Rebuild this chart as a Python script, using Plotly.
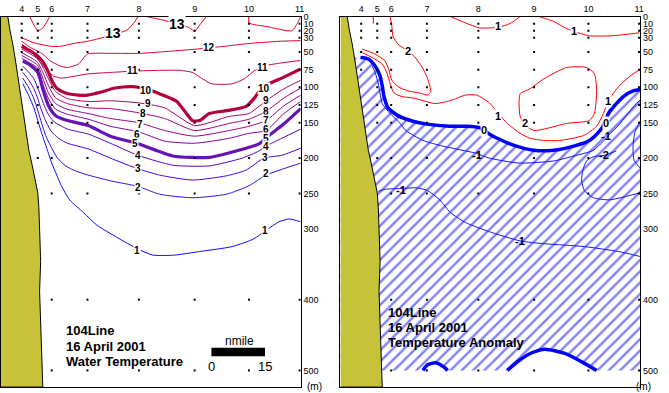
import plotly.graph_objects as go

W, H = 669, 393

# ---------------- axes / stations ----------------
station_names = ["4", "5", "6", "7", "8", "9", "10", "11"]
station_nmi = [5.8, 10.3, 14.2, 24.2, 38.6, 54.2, 69.4, 83.6]
station_bottom = [75, 200, 500, 500, 500, 500, 500, 500]
sample_depths = [10, 20, 30, 50, 75, 100, 125, 150, 200, 250, 400, 500]
depth_ticks = [0, 10, 20, 30, 50, 75, 100, 125, 150, 200, 250, 300, 400, 500]
X_MAX = 83.9
D_MAX = 523.5

# ---------------- coast (bottom topography) ----------------
coast_x = [1.9, 2.5, 3.3, 4.2, 5.0, 5.8, 6.4, 7.2, 7.8, 8.6, 9.4, 10.3, 10.6, 10.8, 11.1, 10.8, 11.1, 11.4, 11.7]
coast_d = [0, 19, 39, 67, 95, 119, 141, 165, 189, 207, 228, 249, 270, 304, 346, 388, 430, 472, 523.5]

# ---------------- water temperature contours (x: nmi, d: m) ----------------
t13a_x = [8.1, 9.2, 10.3, 11.7, 13.1, 13.6]
t13a_d = [0, 12, 20, 16, 5, 0]
t13b_x = [5.8, 9.2, 13.9, 16.7, 20.3, 24.2, 29.7, 35.3, 37.5, 38.3]
t13b_d = [30, 37, 42, 42, 38, 35, 28, 19, 7, 0]
t13c_x = [40.8, 45.3, 49.2, 52.8, 54.2, 55.6, 57.5]
t13c_d = [0, 5, 10, 16, 21, 12, 0]
t13d_x = [69.4, 69.4, 74.2, 81.4, 82.8, 83.9]
t13d_d = [0, 9, 14, 20, 11, 0]
t12_x = [5.8, 8.3, 11.1, 13.9, 16.7, 18.6, 21.7, 24.2, 30.6, 38.9, 47.2, 54.7, 62.5, 69.4, 77.8, 83.9]
t12_d = [35, 44, 51, 63, 70, 72, 67, 53, 52, 52, 49, 46, 42, 38, 35, 34]
t11_x = [5.8, 8.3, 10.3, 11.9, 13.1, 14.7, 16.7, 18.6, 24.4, 30.6, 37.5, 44.4, 50.0, 53.6, 56.4, 58.9, 64.7, 68.1, 70.8, 73.6, 77.8, 83.9]
t11_d = [39, 49, 60, 70, 77, 84, 87, 86, 81, 79, 77, 76, 76, 79, 88, 95, 95, 88, 77, 70, 66, 62]
t10_x = [5.8, 8.3, 10.3, 11.9, 13.3, 14.4, 15.8, 18.1, 21.7, 24.2, 27.8, 31.9, 36.9, 41.7, 45.8, 49.2, 51.9, 53.6, 55.6, 58.3, 63.3, 68.6, 70.8, 72.8, 75.0, 78.6, 83.9]
t10_d = [42, 49, 56, 65, 79, 92, 102, 108, 111, 111, 107, 101, 99, 104, 112, 120, 137, 147, 147, 137, 133, 127, 116, 102, 95, 87, 74]
tmid_x = [5.8, 8.3, 10.3, 11.9, 13.3, 15.3, 18.6, 24.4, 30.6, 38.6, 45.8, 54.2, 63.9, 69.4, 74.2, 79.2, 83.9]
t9_d = [46, 53, 60, 73, 88, 106, 116, 120, 119, 122, 129, 154, 141, 137, 119, 102, 90]
t8_d = [51, 58, 65, 81, 98, 115, 123, 129, 130, 136, 144, 161, 151, 145, 134, 115, 101]
t7_d = [55, 62, 69, 90, 108, 123, 131, 137, 144, 150, 161, 169, 161, 155, 147, 126, 111]
t6_d = [59, 66, 73, 98, 116, 131, 138, 145, 155, 163, 176, 179, 172, 165, 161, 137, 120]
t5_x = [6.1, 8.3, 10.3, 11.9, 13.3, 15.3, 18.6, 24.4, 30.6, 38.6, 48.1, 58.3, 65.8, 72.2, 75.0, 78.6, 83.9]
t5_d = [63, 69, 79, 106, 126, 140, 147, 154, 169, 180, 197, 199, 190, 180, 168, 154, 130]
t4_x = [6.1, 7.8, 9.2, 10.3, 11.1, 11.9, 13.1, 14.7, 18.6, 24.4, 30.6, 38.3, 48.1, 58.3, 67.5, 72.2, 74.2, 78.6, 83.9]
t4_d = [70, 79, 88, 101, 112, 123, 137, 148, 159, 166, 179, 196, 210, 211, 200, 190, 183, 172, 159]
t3_x = [6.1, 7.8, 9.2, 10.3, 11.1, 12.2, 13.9, 16.1, 18.6, 24.4, 30.6, 38.3, 44.4, 53.6, 63.1, 68.6, 73.6, 78.6, 83.9]
t3_d = [79, 90, 102, 116, 129, 144, 161, 172, 179, 187, 200, 215, 224, 231, 225, 217, 200, 196, 186]
t2_x = [6.1, 7.8, 9.2, 10.3, 11.4, 12.5, 13.9, 15.8, 18.1, 20.8, 24.4, 30.6, 38.3, 44.4, 53.6, 63.1, 69.4, 74.2, 79.7, 83.9]
t2_d = [87, 101, 116, 133, 151, 168, 183, 200, 211, 218, 224, 232, 240, 251, 256, 251, 239, 224, 214, 207]
t1_x = [6.1, 7.8, 9.2, 10.3, 11.4, 12.8, 14.2, 15.6, 16.9, 19.2, 23.1, 26.9, 32.5, 38.1, 42.5, 48.6, 55.6, 64.7, 70.8, 74.2, 77.8, 80.6, 83.9]
t1_d = [95, 112, 129, 147, 165, 186, 207, 224, 239, 259, 277, 295, 312, 328, 337, 337, 332, 325, 314, 302, 290, 286, 290]

t_label_text = ["13", "13", "12", "11", "11", "10", "10", "9", "9", "8", "8", "7", "7", "6", "6",
                "5", "5", "4", "4", "3", "3", "2", "2", "1", "1"]
t_label_x = [31.4, 49.2, 58.3, 36.9, 73.1, 40.6, 73.6, 41.1, 74.2, 39.7, 74.2, 38.9, 74.2, 38.1, 74.2,
             37.5, 74.2, 38.3, 74.2, 38.3, 73.9, 38.3, 74.2, 38.1, 73.9]
t_label_d = [23, 10, 44, 76, 72, 105, 101, 123, 119, 137, 134, 153, 147, 167, 159,
             180, 172, 196, 183, 215, 199, 242, 222, 330, 302]

# ---------------- temperature anomaly contours ----------------
a1_top_x = [30.8, 35.0, 38.9, 42.2, 45.8, 47.8, 50.3]
a1_top_d = [0, 9, 16, 16, 13, 9, 0]
a1_topr_x = [55.6, 59.7, 63.3, 69.4, 76.4, 83.6]
a1_topr_d = [0, 7, 17, 27, 27, 23]
a1_short_x = [9.2, 9.2]
a1_short_d = [0, 10]
a1_x = [6.1, 8.9, 11.7, 13.1, 13.9, 15.0, 17.2, 20.3, 23.9, 26.4, 30.6, 35.0, 38.1, 41.7, 44.4, 46.7, 50.3, 53.1, 56.9, 61.4, 68.1, 71.7, 73.6, 75.0, 76.9, 79.2, 81.9, 83.6]
a1_d = [51, 58, 67, 81, 95, 108, 113, 115, 120, 123, 119, 111, 111, 122, 138, 151, 165, 172, 175, 175, 168, 155, 137, 119, 105, 92, 81, 76]
a2_tongue_x = [13.9, 14.4, 14.7, 16.1, 18.9, 20.8, 22.8, 24.2, 25.0, 25.3, 24.4, 22.2, 18.9, 16.1, 14.4, 13.6, 12.5, 9.7, 6.1]
a2_tongue_d = [0, 14, 28, 39, 49, 57, 71, 85, 98, 106, 111, 108, 105, 99, 90, 76, 63, 53, 46]
a2_loop_x = [50.3, 53.1, 56.9, 63.3, 68.9, 71.1, 71.7, 71.1, 69.7, 63.3, 57.8, 54.2, 51.7, 50.3, 50.0, 50.3]
a2_loop_d = [109, 102, 88, 72, 72, 81, 105, 137, 147, 151, 158, 161, 154, 141, 123, 109]
a0_x = [5.6, 7.8, 9.7, 11.1, 11.7, 12.2, 13.3, 16.1, 20.3, 24.2, 30.6, 35.3, 38.9, 41.1, 43.9, 48.6, 54.2, 59.7, 65.3, 69.7, 72.5, 73.9, 75.0, 76.7, 79.2, 81.9, 83.9]
a0_d = [58, 60, 70, 84, 98, 113, 129, 140, 148, 152, 155, 155, 157, 164, 172, 182, 189, 189, 183, 175, 162, 151, 137, 126, 113, 105, 103]
am1_x = [8.9, 9.7, 10.6, 11.1, 11.7, 13.9, 16.7, 18.3, 23.1, 28.6, 37.8, 41.7, 50.0, 59.7, 65.3, 70.8, 73.6, 75.6, 77.8, 80.0, 82.2, 83.9]
am1_d = [70, 79, 95, 109, 123, 137, 151, 161, 175, 183, 193, 200, 207, 204, 197, 189, 176, 165, 154, 140, 126, 118]
am1_low_x = [10.6, 12.5, 16.9, 21.4, 24.4, 27.8, 30.8, 35.0, 41.7, 50.3, 57.2, 68.3, 77.8, 83.9]
am1_low_d = [247, 244, 243, 242, 246, 259, 277, 291, 304, 317, 321, 325, 332, 339]
am2_x = [77.2, 73.9, 70.8, 68.9, 67.8, 67.5, 68.3, 70.8, 75.3, 80.0, 83.9]
am2_d = [190, 196, 198, 204, 218, 232, 246, 256, 259, 254, 249]
am_edge_x = [83.9, 82.5, 81.9, 82.2, 83.9]
am_edge_d = [148, 162, 183, 203, 214]
bump1_x = [23.1, 24.4, 26.7, 29.2, 30.0]
bump1_d = [500, 492, 489, 496, 500]
bump2_x = [46.7, 50.0, 53.6, 57.2, 62.8, 68.3, 71.7]
bump2_d = [500, 486, 475, 470, 476, 490, 500]

a_label_text = ["1", "1", "1", "1", "2", "2", "0", "0", "-1", "-1", "-1", "-1", "-2"]
a_label_x = [44.2, 65.3, 44.2, 75.0, 18.9, 51.7, 40.3, 74.4, 38.3, 74.4, 16.9, 50.3, 73.9]
a_label_d = [13, 21, 140, 119, 49, 151, 160, 151, 196, 169, 245, 317, 196]
a_label_bg = [True, True, True, True, True, True, True, True, False, False, False, False, False]

scale_start = 58.9
scale_len = 15

# ---------------- figure ----------------
fig = go.Figure()

x_dom_l = [0 / W, 302 / W]
x_dom_r = [342 / W, 644 / W]
y_dom = [1 - 387 / H, 1 - 11.7 / H]


def line(x, d, color, width, xa, ya):
    fig.add_trace(go.Scatter(x=x, y=d, mode="lines", xaxis=xa, yaxis=ya,
                             line=dict(color=color, width=width, shape="spline", smoothing=0.6),
                             hoverinfo="skip", showlegend=False))


# ---- left panel: temperature ----
temp_lines = [
    (t13a_x, t13a_d, "#e8001e", 1), (t13b_x, t13b_d, "#e8001e", 1),
    (t13c_x, t13c_d, "#e8001e", 1), (t13d_x, t13d_d, "#e8001e", 1),
    (t12_x, t12_d, "#dc0030", 1), (t11_x, t11_d, "#c8003c", 1),
    (t10_x, t10_d, "#b4003c", 3.2),
    (tmid_x, t9_d, "#aa0064", 1), (tmid_x, t8_d, "#a00078", 1),
    (tmid_x, t7_d, "#96008c", 1), (tmid_x, t6_d, "#8200a0", 1),
    (t5_x, t5_d, "#6414b4", 3.2),
    (t4_x, t4_d, "#5a00c8", 1), (t3_x, t3_d, "#4600dc", 1),
    (t2_x, t2_d, "#2814ee", 1), (t1_x, t1_d, "#0a0aff", 1),
]
for x, d, c, w in temp_lines:
    line(x, d, c, w, "x", "y")

coast_poly_x = [0] + coast_x + [0]
coast_poly_d = [0] + coast_d + [D_MAX]

dots_x, dots_d = [], []
for sx, sb in zip(station_nmi, station_bottom):
    for dep in sample_depths:
        if dep <= sb:
            dots_x.append(sx)
            dots_d.append(dep)

fig.add_trace(go.Scatter(x=coast_poly_x, y=coast_poly_d, mode="lines", fill="toself",
                         fillcolor="#c6c33a", line=dict(color="black", width=1),
                         xaxis="x", yaxis="y", hoverinfo="skip", showlegend=False))

# ---- right panel: anomaly ----
hatch_x = [0] + a0_x + [X_MAX, X_MAX] + bump2_x[::-1] + bump1_x[::-1] + [0]
hatch_d = [60] + a0_d + [a0_d[-1], 500] + bump2_d[::-1] + bump1_d[::-1] + [500]
fig.add_trace(go.Scatter(x=hatch_x, y=hatch_d, mode="lines", fill="toself",
                         fillcolor="rgba(0,0,0,0)",
                         fillpattern=dict(shape="/", fgcolor="#0000ff", bgcolor="white",
                                          size=8, solidity=0.3),
                         line=dict(width=0, color="rgba(0,0,0,0)"),
                         xaxis="x2", yaxis="y2", hoverinfo="skip", showlegend=False))

red = "#ff0000"
blue = "#1414ff"
for x, d in [(a1_top_x, a1_top_d), (a1_topr_x, a1_topr_d), (a1_short_x, a1_short_d),
             (a1_x, a1_d), (a2_tongue_x, a2_tongue_d), (a2_loop_x, a2_loop_d)]:
    line(x, d, red, 1, "x2", "y2")
for x, d in [(am1_x, am1_d), (am1_low_x, am1_low_d), (am2_x, am2_d), (am_edge_x, am_edge_d)]:
    line(x, d, blue, 1, "x2", "y2")
for x, d in [(a0_x, a0_d), (bump1_x, bump1_d), (bump2_x, bump2_d)]:
    line(x, d, "#0000ff", 3.5, "x2", "y2")

fig.add_trace(go.Scatter(x=coast_poly_x, y=coast_poly_d, mode="lines", fill="toself",
                         fillcolor="#c6c33a", line=dict(color="black", width=1),
                         xaxis="x2", yaxis="y2", hoverinfo="skip", showlegend=False))

for xa, ya in [("x", "y"), ("x2", "y2")]:
    fig.add_trace(go.Scatter(x=dots_x, y=dots_d, mode="markers", xaxis=xa, yaxis=ya,
                             marker=dict(symbol="square", size=2, color="black"),
                             hoverinfo="skip", showlegend=False))

# ---------------- annotations ----------------
ann = []
for t, x, d in zip(t_label_text, t_label_x, t_label_d):
    ann.append(dict(x=x, y=d, xref="x", yref="y", text="<b>%s</b>" % t, showarrow=False,
                    font=dict(family="Arial", size=14 if t == "13" else 10, color="black"),
                    bgcolor="white", borderpad=0))
for t, x, d, bg in zip(a_label_text, a_label_x, a_label_d, a_label_bg):
    ann.append(dict(x=x, y=d, xref="x2", yref="y2", text="<b>%s</b>" % t, showarrow=False,
                    font=dict(family="Arial", size=11, color="black"),
                    bgcolor="white" if bg else None, borderpad=0))

title_left = ["104Line", "16 April 2001", "Water Temperature"]
title_right = ["104Line", "16 April 2001", "Temperature Anomaly"]
for i, (tl, tr) in enumerate(zip(title_left, title_right)):
    ann.append(dict(x=63 / W, y=1 - (330 + 15.5 * i) / H, xref="paper", yref="paper",
                    text="<b>%s</b>" % tl, showarrow=False, xanchor="left", yanchor="middle",
                    font=dict(family="Arial", size=13, color="black")))
    ann.append(dict(x=388 / W, y=1 - (311 + 15.5 * i) / H, xref="paper", yref="paper",
                    text="<b>%s</b>" % tr, showarrow=False, xanchor="left", yanchor="middle",
                    font=dict(family="Arial", size=13, color="black")))

ann.append(dict(x=scale_start + scale_len / 2 + 0.3, y=458, xref="x", yref="y", text="nmile",
                showarrow=False, font=dict(family="Arial", size=12, color="black")))
ann.append(dict(x=scale_start, y=494, xref="x", yref="y", text="0",
                showarrow=False, font=dict(family="Arial", size=13, color="black")))
ann.append(dict(x=scale_start + scale_len, y=494, xref="x", yref="y", text="15",
                showarrow=False, font=dict(family="Arial", size=13, color="black")))
for xp in [316, 657]:
    ann.append(dict(x=xp / W, y=1 - 386 / H, xref="paper", yref="paper", text="(m)",
                    showarrow=False, yanchor="middle",
                    font=dict(family="Arial", size=10, color="black")))

shapes = [dict(type="rect", xref="x", yref="y", x0=scale_start, x1=scale_start + scale_len,
               y0=468, y1=480, fillcolor="black", line=dict(width=0))]

xcommon = dict(range=[0, X_MAX], side="top", tickmode="array", tickvals=station_nmi,
               ticktext=station_names, showgrid=False, zeroline=False, showline=True,
               mirror=True, linecolor="black", linewidth=1, ticks="",
               tickfont=dict(family="Arial", size=9, color="black"))
ycommon = dict(range=[D_MAX, 0], side="right", tickmode="array", tickvals=depth_ticks,
               ticktext=[str(v) for v in depth_ticks], showgrid=False, zeroline=False,
               showline=True, mirror=True, linecolor="black", linewidth=1, ticks="",
               tickfont=dict(family="Arial", size=9, color="black"), domain=y_dom)

fig.update_layout(
    width=W, height=H, margin=dict(l=0, r=0, t=0, b=0),
    paper_bgcolor="white", plot_bgcolor="white", showlegend=False,
    xaxis=dict(domain=x_dom_l, anchor="y", **xcommon),
    yaxis=dict(anchor="x", **ycommon),
    xaxis2=dict(domain=x_dom_r, anchor="y2", **xcommon),
    yaxis2=dict(anchor="x2", **ycommon),
    annotations=ann, shapes=shapes,
)

fig.write_html("out.html", config={"displayModeBar": False, "staticPlot": True},
               post_script="document.body.style.margin='0';document.body.style.overflow='hidden';")
